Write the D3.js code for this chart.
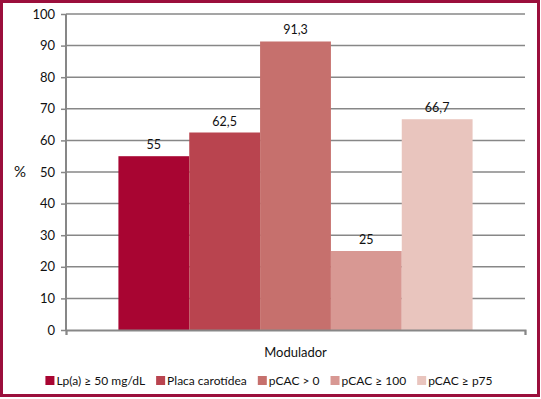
<!DOCTYPE html>
<html>
<head>
<meta charset="utf-8">
<script src="https://cdn.jsdelivr.net/npm/d3@7"></script>
<style>
  body { margin: 0; background: #fff; }
  svg { display: block; font-family: Lato, "Open Sans", sans-serif; }
</style>
</head>
<body>
<div class="chartDIV"></div>
<script>
// data
var series = ["Lp(a) \u2265 50 mg/dL", "Placa carot\u00eddea", "pCAC > 0", "pCAC \u2265 100", "pCAC \u2265 p75"],
    values = [55, 62.5, 91.3, 25, 66.7],
    labels = ["55", "62,5", "91,3", "25", "66,7"],
    colors = ["#a80532", "#b9444f", "#c6706d", "#d89893", "#e9c5be"],
    category = ["Modulador"],
    yTicks = [0, 10, 20, 30, 40, 50, 60, 70, 80, 90, 100];

var width = 541,
    height = 399,
    plot = {left: 66, right: 525, top: 14, bottom: 330};

var svg = d3.select(".chartDIV").
    append("svg").
    attr("width", width).
    attr("height", height);

svg.append("rect").
    attr("x", 1.5).attr("y", 1.5).
    attr("width", width - 4).attr("height", height - 5).
    attr("fill", "#fff").
    attr("stroke", "#9b0f3c").
    attr("stroke-width", 3);

var y = d3.scaleLinear().domain([0, 100]).range([plot.bottom, plot.top]);
var x0 = d3.scaleBand().domain(category).range([plot.left, plot.right]).paddingInner(0).paddingOuter(0.148);
var x1 = d3.scaleBand().domain(series).range([0, x0.bandwidth()]);

// gridlines
svg.append("g").
    selectAll("line").
    data(yTicks.slice(1)).
    enter().
    append("line").
    attr("x1", plot.left).attr("x2", plot.right).
    attr("y1", function(d) { return y(d); }).
    attr("y2", function(d) { return y(d); }).
    attr("stroke", "#878787").
    attr("stroke-width", 1.5);

// bars
var grp = svg.append("g").attr("transform", "translate(" + x0(category[0]) + ",0)");
grp.selectAll("rect").
    data(values).
    enter().
    append("rect").
    attr("x", function(d, i) { return x1(series[i]); }).
    attr("y", function(d) { return y(d); }).
    attr("width", x1.bandwidth()).
    attr("height", function(d) { return y(0) - y(d); }).
    attr("fill", function(d, i) { return colors[i]; });

grp.selectAll("text").
    data(values).
    enter().
    append("text").
    attr("x", function(d, i) { return x1(series[i]) + x1.bandwidth() / 2; }).
    attr("y", function(d) { return y(d) - 7; }).
    attr("text-anchor", "middle").
    style("font-size", "12.5px").
    attr("fill", "#111").
    text(function(d, i) { return labels[i]; });

// y axis
var yAxis = svg.append("g").
    attr("transform", "translate(" + plot.left + ",0)").
    call(d3.axisLeft(y).tickValues(yTicks).tickSize(5).tickPadding(6));
yAxis.select(".domain").attr("stroke", "#878787").attr("stroke-width", 2).attr("d", "M0," + plot.top + "V" + plot.bottom);
yAxis.selectAll(".tick line").attr("stroke", "#878787").attr("stroke-width", 1.5);
yAxis.selectAll(".tick text").style("font-size", "13px").style("font-family", "Lato, sans-serif").attr("fill", "#111");

// x axis baseline
var xAxis = svg.append("g").
    attr("transform", "translate(0," + plot.bottom + ")").
    call(d3.axisBottom(d3.scaleLinear().domain([0, 1]).range([plot.left, plot.right])).tickValues([0, 1]).tickSize(5).tickFormat(""));
xAxis.select(".domain").attr("stroke", "#878787").attr("stroke-width", 2);
xAxis.selectAll(".tick line").attr("stroke", "#878787").attr("stroke-width", 1.5);

svg.append("text").
    attr("x", 20).attr("y", 177).
    attr("text-anchor", "middle").
    style("font-size", "15px").
    attr("fill", "#111").
    text("%");

svg.append("text").
    attr("x", (plot.left + plot.right) / 2).attr("y", 357).
    attr("text-anchor", "middle").
    style("font-size", "13px").
    attr("fill", "#111").
    text(category[0]);

// legend
var legend = svg.append("g");
var items = legend.selectAll("g").
    data(series).
    enter().
    append("g");
items.append("rect").
    attr("width", 9).attr("height", 9).
    attr("y", -9).
    attr("fill", function(d, i) { return colors[i]; });
items.append("text").
    attr("x", 11).
    style("font-size", "12px").
    attr("fill", "#111").
    text(function(d) { return d; });

var pos = 0, gap = 11;
items.each(function() {
    var w = this.getBBox().width;
    d3.select(this).attr("transform", "translate(" + pos + ",0)");
    pos += w + gap;
});
var total = pos - gap;
legend.attr("transform", "translate(" + (269 - total / 2) + ",385)");
</script>
</body>
</html>
